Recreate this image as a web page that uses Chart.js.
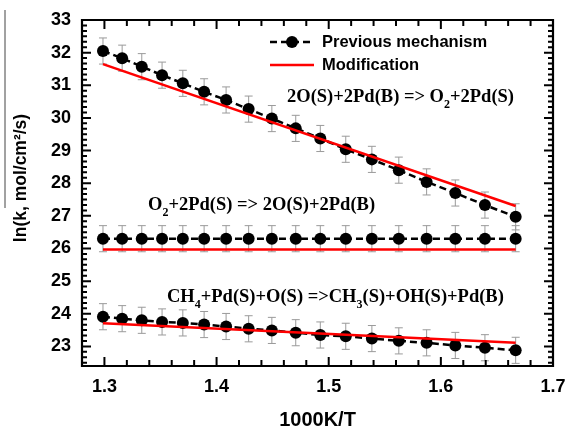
<!DOCTYPE html>
<html>
<head>
<meta charset="utf-8">
<script src="https://cdn.jsdelivr.net/npm/chart.js@4.4.1/dist/chart.umd.min.js"></script>
<style>
  html, body { margin: 0; padding: 0; background: #fff; }
  .chart-wrapper { width: 568px; height: 428px; position: relative; }
</style>
</head>
<body>
<div class="chart-wrapper"><canvas id="chart"></canvas></div>
<script>
// 1000K/T values (T = 770 ... 600 K)
const xValues = [1.2987, 1.3158, 1.3333, 1.3514, 1.3699, 1.3889, 1.4085, 1.4286, 1.4493,
  1.4706, 1.4925, 1.5152, 1.5385, 1.5625, 1.5873, 1.6129, 1.6393, 1.6667];

// previous mechanism, ln(k)
const prevDesorption = [32.05, 31.83, 31.57, 31.31, 31.06, 30.80, 30.55, 30.27, 29.98,
  29.68, 29.37, 29.04, 28.73, 28.40, 28.04, 27.70, 27.33, 26.97];
const prevAdsorption = [26.30, 26.30, 26.30, 26.30, 26.30, 26.30, 26.30, 26.30, 26.30,
  26.30, 26.30, 26.30, 26.30, 26.30, 26.30, 26.30, 26.30, 26.30];
const prevMethane = [23.91, 23.85, 23.80, 23.75, 23.72, 23.67, 23.61, 23.54, 23.49,
  23.42, 23.35, 23.31, 23.24, 23.17, 23.11, 23.03, 22.96, 22.88];
const errorSize = 0.4;

// modification (straight lines, end points)
const modX = [1.2987, 1.6667];
const modDesorption = [31.65, 27.30];
const modAdsorption = [25.97, 25.97];
const modMethane = [23.71, 23.11];

const xRange = [1.28, 1.7];
const yRange = [22.4, 33];
const xTicks = [1.3, 1.4, 1.5, 1.6, 1.7];
const yTicks = [23, 24, 25, 26, 27, 28, 29, 30, 31, 32, 33];

const legendLabels = ['Previous mechanism', 'Modification'];
const reactions = [
  { x: 1.4628, y: 30.64, parts: [['2O(S)+2Pd(B) => O'], ['2', 'sub'], ['+2Pd(S)']] },
  { x: 1.3389, y: 27.33, parts: [['O'], ['2', 'sub'], ['+2Pd(S) => 2O(S)+2Pd(B)']] },
  { x: 1.3558, y: 24.51, parts: [['CH'], ['4', 'sub'], ['+Pd(S)+O(S) =>CH'], ['3', 'sub'], ['(S)+OH(S)+Pd(B)']] },
];

const SANS = '"Liberation Sans", Arial, sans-serif';
const SERIF = '"Liberation Serif", "Times New Roman", serif';

const toPoints = (xs, ys) => xs.map((x, i) => ({ x, y: ys[i] }));

const prevStyle = {
  borderColor: '#000',
  backgroundColor: '#000',
  borderWidth: 2.5,
  borderDash: [7, 4],
  pointRadius: 6,
  pointHoverRadius: 6,
  pointBorderWidth: 0,
  order: 1,
  errorBars: true,
};
const modStyle = {
  borderColor: '#ff0000',
  backgroundColor: '#ff0000',
  borderWidth: 2.5,
  pointRadius: 0,
  order: 0,
};

function drawErrorBars(chart) {
  const { ctx, scales: { x, y } } = chart;
  ctx.save();
  ctx.strokeStyle = '#9a9a9a';
  ctx.lineWidth = 1;
  chart.data.datasets.forEach((ds) => {
    if (!ds.errorBars) return;
    ds.data.forEach((p) => {
      const px = x.getPixelForValue(p.x);
      const top = y.getPixelForValue(p.y + errorSize);
      const bottom = y.getPixelForValue(p.y - errorSize);
      ctx.beginPath();
      ctx.moveTo(px, top); ctx.lineTo(px, bottom);
      ctx.moveTo(px - 4, top); ctx.lineTo(px + 4, top);
      ctx.moveTo(px - 4, bottom); ctx.lineTo(px + 4, bottom);
      ctx.stroke();
    });
  });
  ctx.restore();
}

function drawFrame(chart) {
  const { ctx, scales: { x, y } } = chart;
  const left = x.getPixelForValue(xRange[0]);
  const right = x.getPixelForValue(xRange[1]);
  const top = y.getPixelForValue(yRange[1]);
  const bottom = y.getPixelForValue(yRange[0]);
  ctx.save();
  ctx.strokeStyle = '#000';
  ctx.lineWidth = 2.2;
  ctx.beginPath();
  ctx.moveTo(left, top); ctx.lineTo(right, top);
  ctx.lineTo(right, bottom); ctx.lineTo(left, bottom);
  ctx.closePath();
  ctx.stroke();

  ctx.lineWidth = 2;
  // x ticks, inward on bottom and top
  for (let i = 0; i <= 20; i++) {
    const px = x.getPixelForValue(1.3 + i * 0.02);
    const len = i % 5 === 0 ? 9 : 6;
    ctx.beginPath();
    ctx.moveTo(px, bottom); ctx.lineTo(px, bottom - len);
    ctx.moveTo(px, top); ctx.lineTo(px, top + len);
    ctx.stroke();
  }
  // y ticks, inward on left and right (5 minor per unit)
  for (let i = 0; i <= 63; i++) {
    const v = 22.5 + i / 6;
    if (v > 33.001) break;
    const py = y.getPixelForValue(v);
    const major = Math.abs(v - Math.round(v)) < 0.001;
    const len = major ? 9 : 5;
    ctx.beginPath();
    ctx.moveTo(left, py); ctx.lineTo(left + len, py);
    ctx.moveTo(right, py); ctx.lineTo(right - len, py);
    ctx.stroke();
  }
  ctx.restore();
}

function drawTexts(chart) {
  const { ctx, scales: { x, y } } = chart;

  // y axis title with overline
  ctx.save();
  ctx.fillStyle = '#000';
  ctx.font = 'bold 17.5px ' + SANS;
  ctx.textAlign = 'center';
  ctx.textBaseline = 'middle';
  ctx.translate(21, 178);
  ctx.rotate(-Math.PI / 2);
  ctx.fillText('ln(k, mol/cm\u00B2/s)', 0, 0);
  ctx.restore();

  ctx.save();
  ctx.fillStyle = '#000';
  ctx.strokeStyle = '#444';
  ctx.lineWidth = 1;
  ctx.beginPath();
  ctx.moveTo(5, 10); ctx.lineTo(5, 208);
  ctx.stroke();

  // legend
  ctx.lineWidth = 2.5;
  ctx.strokeStyle = '#000';
  ctx.setLineDash([7, 4]);
  ctx.beginPath();
  ctx.moveTo(270, 42); ctx.lineTo(314, 42);
  ctx.stroke();
  ctx.setLineDash([]);
  ctx.beginPath();
  ctx.arc(292, 42, 6, 0, Math.PI * 2);
  ctx.fill();
  ctx.strokeStyle = '#ff0000';
  ctx.beginPath();
  ctx.moveTo(270, 65); ctx.lineTo(314, 65);
  ctx.stroke();
  ctx.font = 'bold 16.5px ' + SANS;
  ctx.textAlign = 'left';
  ctx.textBaseline = 'middle';
  ctx.fillText(legendLabels[0], 322, 42);
  ctx.fillText(legendLabels[1], 322, 65);

  // reaction labels
  reactions.forEach((r) => {
    let px = x.getPixelForValue(r.x);
    const py = y.getPixelForValue(r.y);
    r.parts.forEach(([text, kind]) => {
      if (kind === 'sub') {
        ctx.font = 'bold 12px ' + SERIF;
        ctx.fillText(text, px, py + 8);
      } else {
        ctx.font = 'bold 18.5px ' + SERIF;
        ctx.fillText(text, px, py);
      }
      px += ctx.measureText(text).width;
    });
  });
  ctx.restore();
}

const decorPlugin = {
  id: 'plotDecor',
  beforeDatasetsDraw(chart) {
    drawErrorBars(chart);
    drawFrame(chart);
  },
  afterDraw(chart) {
    drawTexts(chart);
  },
};

new Chart(document.getElementById('chart'), {
  type: 'scatter',
  data: {
    datasets: [
      { ...modStyle, label: legendLabels[1], data: toPoints(modX, modDesorption), showLine: true },
      { ...modStyle, label: legendLabels[1], data: toPoints(modX, modAdsorption), showLine: true },
      { ...modStyle, label: legendLabels[1], data: toPoints(modX, modMethane), showLine: true },
      { ...prevStyle, label: legendLabels[0], data: toPoints(xValues, prevDesorption), showLine: true },
      { ...prevStyle, label: legendLabels[0], data: toPoints(xValues, prevAdsorption), showLine: true },
      { ...prevStyle, label: legendLabels[0], data: toPoints(xValues, prevMethane), showLine: true },
    ],
  },
  plugins: [decorPlugin],
  options: {
    responsive: true,
    maintainAspectRatio: false,
    animation: false,
    events: [],
    layout: { padding: { top: 20, right: 15, left: 0, bottom: 0 } },
    plugins: {
      legend: { display: false },
      tooltip: { enabled: false },
    },
    scales: {
      x: {
        type: 'linear',
        min: xRange[0],
        max: xRange[1],
        afterFit: (s) => {
          s.height = 62;
          s.paddingLeft = 0;
          s.paddingRight = 0;
        },
        afterBuildTicks: (s) => { s.ticks = xTicks.map((value) => ({ value })); },
        grid: { display: false, drawTicks: false },
        border: { display: false },
        ticks: {
          padding: 10,
          color: '#000',
          font: { family: SANS, size: 18, weight: 'bold' },
          maxRotation: 0,
          callback: (v) => v.toFixed(1),
        },
        title: {
          display: true,
          text: '1000K/T',
          color: '#000',
          padding: { top: 0, bottom: -4 },
          font: { family: SANS, size: 20, weight: 'bold' },
        },
      },
      y: {
        type: 'linear',
        min: yRange[0],
        max: yRange[1],
        afterFit: (s) => {
          s.width = 82;
          s.paddingTop = 0;
          s.paddingBottom = 0;
        },
        afterBuildTicks: (s) => { s.ticks = yTicks.map((value) => ({ value })); },
        grid: { display: false, drawTicks: false },
        border: { display: false },
        ticks: {
          padding: 11,
          color: '#000',
          font: { family: SANS, size: 18, weight: 'bold' },
          callback: (v) => String(v),
        },
      },
    },
  },
});
</script>
</body>
</html>
